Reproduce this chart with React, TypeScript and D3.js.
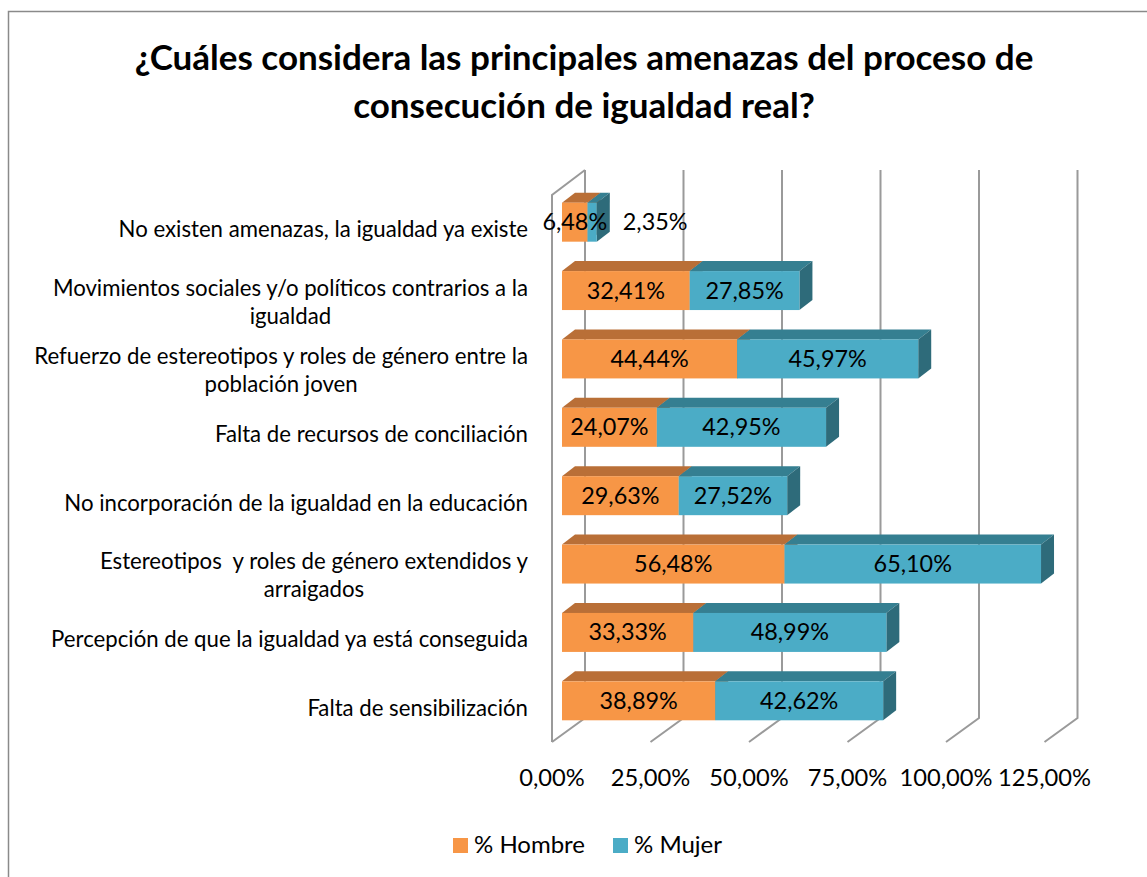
import React, { useEffect, useRef } from "react";
import * as d3 from "d3";

// categorías (las líneas partidas con "\n" como en el original)
const categories = [
  "No existen amenazas, la igualdad ya existe",
  "Movimientos sociales y/o políticos contrarios a la\nigualdad",
  "Refuerzo de estereotipos y roles de género entre la\npoblación joven",
  "Falta de recursos de conciliación",
  "No incorporación de la igualdad en la educación",
  "Estereotipos  y roles de género extendidos y\narraigados",
  "Percepción de que la igualdad ya está conseguida",
  "Falta de sensibilización",
];
const hombre = [6.48, 32.41, 44.44, 24.07, 29.63, 56.48, 33.33, 38.89];
const mujer = [2.35, 27.85, 45.97, 42.95, 27.52, 65.1, 48.99, 42.62];
const ticks = [0, 25, 50, 75, 100, 125];
const seriesNames = ["% Hombre", "% Mujer"];
const titleLines = [
  "¿Cuáles considera las principales amenazas del proceso de",
  "consecución de igualdad real?",
];

const FONT = "Lato, Carlito, Calibri, sans-serif";
const colors = {
  hombre: { front: "#F79646", top: "#B96F37", side: "#A45F2C" },
  mujer: { front: "#4BACC6", top: "#357F91", side: "#2E6B7A" },
};
const fmt = (v: number) => d3.format(".2f")(v).replace(".", ",") + "%";

export default function App() {
  const svgRef = useRef<SVGSVGElement>(null);

  useEffect(() => {
    if (!svgRef.current) return;
    const svg = d3.select(svgRef.current);
    svg.selectAll("*").remove();

    // marco del gráfico (se sale de la ventana por la derecha y abajo)
    svg
      .append("rect")
      .attr("x", 8.5)
      .attr("y", 11.5)
      .attr("width", 1300)
      .attr("height", 1000)
      .attr("fill", "#fff")
      .attr("stroke", "#8a8a8a")
      .attr("stroke-width", 1.5);

    // título
    svg
      .append("text")
      .attr("text-anchor", "middle")
      .attr("font-family", FONT)
      .attr("font-weight", "bold")
      .attr("font-size", 35)
      .selectAll("tspan")
      .data(titleLines)
      .enter()
      .append("tspan")
      .attr("x", 584)
      .attr("y", (d, i) => 70 + i * 48)
      .text((d) => d);

    const x = d3.scaleLinear().domain([0, 125]).range([562, 1054.5]);
    const y = d3
      .scaleBand<string>()
      .domain(categories)
      .range([188, 735])
      .paddingInner(0.43)
      .paddingOuter(0.215);

    // profundidad 3D
    const barDx = 13;
    const barDy = 10;
    const floorFront = -10;
    const floorBack = 23;
    const backTop = 170;
    const backBottom = 718;
    const frontBottom = 742;
    const frontTop = 195;
    const gridColor = "#9a9a9a";

    const grid = svg
      .append("g")
      .attr("fill", "none")
      .attr("stroke", gridColor)
      .attr("stroke-width", 2);

    // pared izquierda
    grid
      .append("path")
      .attr(
        "d",
        `M${x(0) + floorFront},${frontBottom} L${x(0) + floorFront},${frontTop} L${x(0) + floorBack},${backTop}`,
      );

    ticks.forEach((t) => {
      grid
        .append("path")
        .attr(
          "d",
          `M${x(t) + floorBack},${backTop} L${x(t) + floorBack},${backBottom} L${x(t) + floorFront},${frontBottom}`,
        );
    });

    // barras apiladas 3D
    const bars = svg.append("g");
    categories.forEach((c, i) => {
      const y0 = y(c)!;
      const y1 = y0 + y.bandwidth();
      const segs = [
        { a: 0, b: hombre[i], col: colors.hombre },
        { a: hombre[i], b: hombre[i] + mujer[i], col: colors.mujer },
      ];
      segs.forEach((s) => {
        const xa = x(s.a);
        const xb = x(s.b);
        bars
          .append("path")
          .attr("fill", s.col.top)
          .attr(
            "d",
            `M${xa},${y0} L${xa + barDx},${y0 - barDy} L${xb + barDx},${y0 - barDy} L${xb},${y0} Z`,
          );
        bars
          .append("path")
          .attr("fill", s.col.side)
          .attr(
            "d",
            `M${xb},${y0} L${xb + barDx},${y0 - barDy} L${xb + barDx},${y1 - barDy} L${xb},${y1} Z`,
          );
        bars
          .append("rect")
          .attr("x", xa)
          .attr("y", y0)
          .attr("width", xb - xa)
          .attr("height", y1 - y0)
          .attr("fill", s.col.front);
      });
    });

    // etiquetas de datos
    const labels = svg
      .append("g")
      .attr("font-family", FONT)
      .attr("font-size", 23.4)
      .attr("fill", "#000");
    categories.forEach((c, i) => {
      const cy = y(c)! + y.bandwidth() / 2 + 8;
      labels
        .append("text")
        .attr("text-anchor", "middle")
        .attr("x", x(hombre[i] / 2))
        .attr("y", cy)
        .text(fmt(hombre[i]));
      const narrow = x(mujer[i]) - x(0) < 60;
      labels
        .append("text")
        .attr("text-anchor", narrow ? "start" : "middle")
        .attr("x", narrow ? x(hombre[i] + mujer[i]) + 26 : x(hombre[i] + mujer[i] / 2))
        .attr("y", cy)
        .text(fmt(mujer[i]));
    });

    // etiquetas de categoría (bloque alineado a la derecha, líneas centradas)
    const cats = svg
      .append("g")
      .attr("font-family", FONT)
      .attr("font-size", 22.2)
      .attr("fill", "#000");
    const labelRight = 528;
    categories.forEach((c) => {
      const lines = c.split("\n");
      const cy = y(c)! + y.bandwidth() / 2;
      const t = cats
        .append("text")
        .attr("text-anchor", "middle")
        .attr("xml:space", "preserve")
        .style("white-space", "pre");
      const spans = lines.map((l, k) =>
        t
          .append("tspan")
          .attr("y", cy + 15 - (lines.length - 1) * 10 + k * 28)
          .text(l),
      );
      const maxW = d3.max(spans, (s) => (s.node() as SVGTSpanElement).getComputedTextLength()) || 0;
      spans.forEach((s) => s.attr("x", labelRight - maxW / 2));
    });

    // eje X
    svg
      .append("g")
      .attr("font-family", FONT)
      .attr("font-size", 23.7)
      .attr("text-anchor", "middle")
      .selectAll("text")
      .data(ticks)
      .enter()
      .append("text")
      .attr("x", (d) => x(d) + floorFront)
      .attr("y", 786)
      .text((d) => fmt(d));

    // leyenda
    const legend = svg
      .append("g")
      .attr("font-family", FONT)
      .attr("font-size", 24);
    const legendX = [453, 613];
    const legendCol = [colors.hombre.front, colors.mujer.front];
    seriesNames.forEach((n, i) => {
      legend
        .append("rect")
        .attr("x", legendX[i])
        .attr("y", 838)
        .attr("width", 15)
        .attr("height", 15)
        .attr("fill", legendCol[i]);
      legend
        .append("text")
        .attr("x", legendX[i] + 21)
        .attr("y", 853)
        .text(n);
    });
  }, []);

  return (
    <div style={{ position: "absolute", left: 0, top: 0 }}>
      <svg
        ref={svgRef}
        width={1147}
        height={877}
        style={{ display: "block", background: "#fff" }}
      />
    </div>
  );
}
